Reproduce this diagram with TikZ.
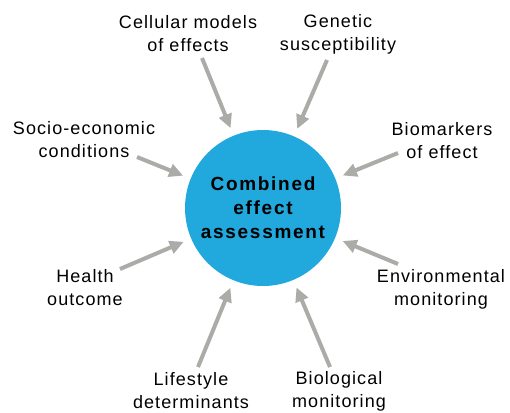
\documentclass[tikz,border=0pt]{standalone}
\usepackage{fontspec}
\usepackage{xcolor}
\usetikzlibrary{arrows.meta}

\newfontfamily\lblfont[LetterSpace=6]{Liberation Sans}
\newfontfamily\corefont[LetterSpace=9]{Liberation Sans}
\definecolor{coreblue}{HTML}{21A8DD}
\definecolor{arrowgray}{HTML}{ABABA7}

\begin{document}
\begin{tikzpicture}[x=1pt, y=-1pt,
	lbl/.style={align=center, inner sep=0pt,
		font=\lblfont\fontsize{18}{23}\selectfont},
	arr/.style={draw=arrowgray, line width=4pt, shorten >=8pt,
		-{Triangle[length=14pt, width=13pt]}}]
	\useasboundingbox (0,0) rectangle (510,412);

	% centre disc
	\node [circle, fill=coreblue, minimum size=156pt, inner sep=0pt,
		align=center, font=\corefont\bfseries\fontsize{19}{24}\selectfont]
		(core) at (263,208) {Combined\\effect\\assessment};

	% the eight inputs
	\node [lbl] (cellular) at (188,34) {Cellular models\\of effects};
	\node [lbl] (genetic) at (338,34) {Genetic\\susceptibility};
	\node [lbl] (socio) at (84,140) {Socio-economic\\conditions};
	\node [lbl] (biomarkers) at (442,141) {Biomarkers\\of effect};
	\node [lbl] (health) at (85,288) {Health\\outcome};
	\node [lbl] (environmental) at (441,289) {Environmental\\monitoring};
	\node [lbl] (lifestyle) at (191,391) {Lifestyle\\determinants};
	\node [lbl] (biological) at (339,391) {Biological\\monitoring};

	\coordinate (cellular-tail) at (202,58);
	\coordinate (genetic-tail) at (327,60);
	\coordinate (socio-tail) at (137,157);
	\coordinate (biomarkers-tail) at (398,153);
	\coordinate (health-tail) at (120,269);
	\coordinate (environmental-tail) at (398,264);
	\coordinate (lifestyle-tail) at (198,367);
	\coordinate (biological-tail) at (330,367);

	\foreach \n in {cellular, genetic, socio, biomarkers,
		health, environmental, lifestyle, biological}
		\draw [arr] (\n-tail) -- (core);
\end{tikzpicture}
\end{document}
